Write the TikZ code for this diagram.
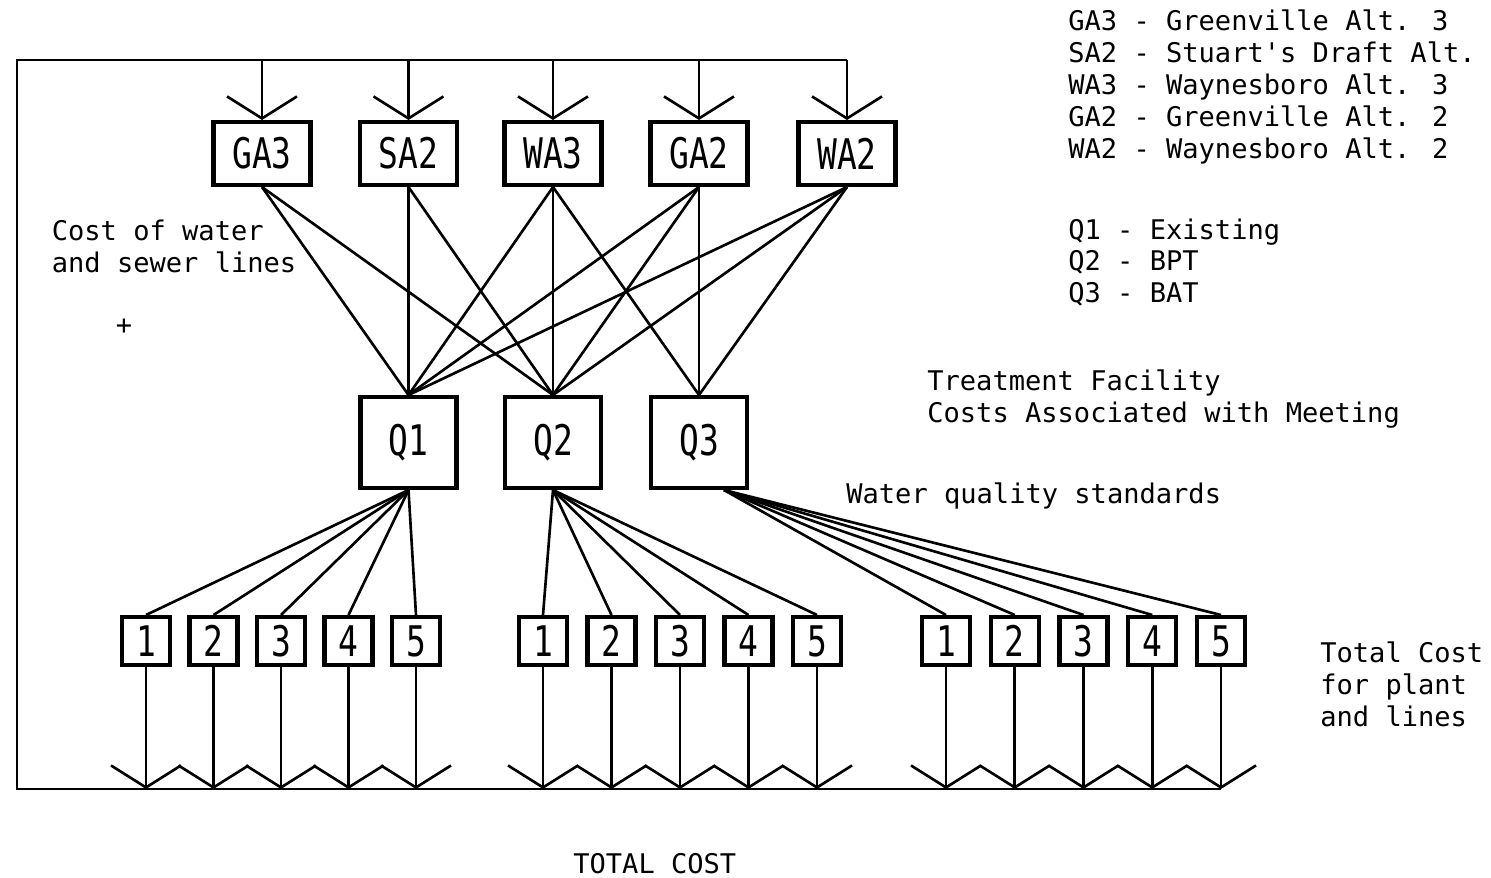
\documentclass[tikz,border=0pt]{standalone}
\usepackage{fontspec}
\newfontfamily\typefont{DejaVu Sans Mono}
\newfontfamily\boxfont[FakeStretch=0.78]{DejaVu Sans Mono}
\usetikzlibrary{arrows.meta,positioning,calc}

\begin{document}
\begin{tikzpicture}[
    box/.style={rectangle, draw, line width=2.3pt, inner sep=0pt, font=\boxfont\fontsize{24}{26}\selectfont},
    altbox/.style={box, minimum width=1.94cm, minimum height=1.26cm},
    qbox/.style={box, minimum width=1.92cm, minimum height=1.82cm},
    plantbox/.style={box, minimum width=0.96cm, minimum height=0.96cm},
    link/.style={line width=1.5pt},
    feed/.style={line width=1.5pt, -{Straight Barb[length=0.44cm, width=1.4cm]}},
    note/.style={font=\typefont\fontsize{15.4}{18.5}\selectfont, inner sep=0pt, anchor=base west}]

    \useasboundingbox (0,0) rectangle (29.82,-17.54);

    % Top row: alternatives for water and sewer lines
    \foreach \n/\t/\x in {ga3/GA3/5.24, sa2/SA2/8.17, wa3/WA3/11.06, ga2/GA2/13.98, wa2/WA2/16.94}
        \node[altbox] (\n) at (\x,-3.07) {\t};

    % Middle row: treatment levels
    \foreach \n/\t/\x in {q1/Q1/8.17, q2/Q2/11.06, q3/Q3/13.98}
        \node[qbox] (\n) at (\x,-8.85) {\t};

    % Bottom row: plant and lines, five for each level
    \foreach \g/\x/\d in {1/2.92/1.35, 2/10.86/1.37, 3/18.92/1.375}
        \foreach \i in {1,...,5}
            \node[plantbox] (p\g\i) at ({\x+(\i-1)*\d},-12.82) {\i};

    % Frame: total cost fed back to the top
    \coordinate (tl) at (0.34,-1.2);
    \coordinate (bl) at (0.34,-15.78);
    \draw[link] (p35 |- bl) -- (bl) -- (tl) -- (tl -| wa2);
    \foreach \n in {ga3,sa2,wa3,ga2,wa2}
        \draw[feed] (tl -| \n) -- (\n);

    \foreach \a/\q in {ga3/q1, ga3/q2, sa2/q1, sa2/q2, wa3/q1, wa3/q2, wa3/q3,
                       ga2/q1, ga2/q2, ga2/q3, wa2/q1, wa2/q2, wa2/q3}
        \draw[link] (\a.south) -- (\q.north);

    \coordinate (q3out) at ([xshift=0.5cm]q3.south);
    \foreach \i in {1,...,5} {
        \draw[link] (q1.south) -- (p1\i.north);
        \draw[link] (q2.south) -- (p2\i.north);
        \draw[link] (q3out) -- (p3\i.north);
    }
    \foreach \g in {1,2,3}
        \foreach \i in {1,...,5}
            \draw[feed] (p\g\i) -- (p\g\i |- bl);

    % Legend and labels
    \foreach \t [count=\k] in {GA3 - Greenville Alt. 3, SA2 - Stuart's Draft Alt.,
                               WA3 - Waynesboro Alt. 3, GA2 - Greenville Alt. 2, WA2 - Waynesboro Alt. 2}
        \node[note] (alt\k) at (21.36,{-0.6-(\k-1)*0.64}) {\t};
    \foreach \t [count=\k] in {Q1 - Existing, Q2 - BPT, Q3 - BAT}
        \node[note] (lev\k) at (21.36,{-4.78-(\k-1)*0.63}) {\t};

    \node[note] (cost1) at (1.03,-4.8) {Cost of water};
    \node[note] (cost2) at (1.03,-5.44) {and sewer lines};
    \node[note, anchor=center] (plus) at (2.48,-6.54) {+};
    \node[note] (treat1) at (18.54,-7.8) {Treatment Facility};
    \node[note] (treat2) at (18.54,-8.44) {Costs Associated with Meeting};
    \node[note] (wqs) at (16.92,-10.06) {Water quality standards};
    \node[note] (tot1) at (26.4,-13.24) {Total Cost};
    \node[note] (tot2) at (26.4,-13.88) {for plant};
    \node[note] (tot3) at (26.4,-14.52) {and lines};
    \node[note] (total) at (11.46,-17.46) {TOTAL COST};
\end{tikzpicture}
\end{document}
